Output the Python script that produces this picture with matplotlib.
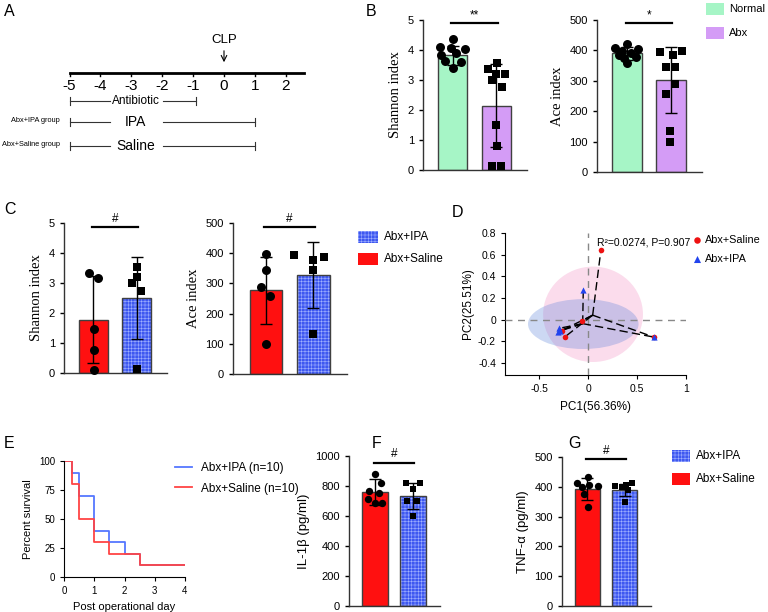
import numpy as np
import matplotlib.pyplot as plt
from matplotlib.patches import Ellipse, Rectangle

plt.rcParams['font.family'] = ['Liberation Sans', 'DejaVu Sans']
plt.rcParams['hatch.linewidth'] = 0.4

W, H = 768, 612

GREEN = '#a6f5c6'
PURPLE = '#d49cf6'
RED = '#ff1010'
BLUE = '#3e58f0'
EDGE = '#404040'

# ---- panel A: timeline ----
days = [-5, -4, -3, -2, -1, 0, 1, 2]
treat_names = ['Antibiotic', 'IPA', 'Saline']
treat_start = [-5, -5, -5]
treat_end = [-0.9, 1, 1]
group_names = ['', 'Abx+IPA group', 'Abx+Saline group']

# ---- panel B ----
b_shannon_mean = [3.82, 2.15]
b_shannon_sd = [0.33, 1.38]
b_shannon_pts = [[4.36, 4.11, 4.08, 4.02, 3.89, 3.83, 3.63, 3.61, 3.39],
                 [3.56, 3.36, 3.20, 3.20, 3.00, 2.76, 1.50, 0.80, 0.14, 0.14]]
b_shannon_off = [[0.01, -0.28, -0.03, 0.27, 0.07, -0.26, -0.18, 0.20, 0.0],
                 [0.01, -0.20, 0.20, -0.01, -0.10, 0.12, 0.0, 0.01, -0.09, 0.10]]
b_ace_mean = [390, 302]
b_ace_sd = [21, 108]
b_ace_pts = [[421, 407, 404, 399, 393, 385, 379, 374, 357],
             [396, 398, 385, 346, 346, 288, 258, 135, 100]]
b_ace_off = [[0.0, -0.27, 0.24, -0.11, 0.08, -0.19, 0.20, -0.07, -0.01],
             [-0.26, 0.25, 0.05, -0.12, 0.09, 0.09, -0.12, -0.02, -0.02]]

# ---- panel C ----
c_shannon_mean = [1.77, 2.51]
c_shannon_sd = [1.45, 1.37]
c_shannon_pts = [[3.34, 3.17, 1.48, 0.78, 0.11],
                 [3.55, 3.19, 2.99, 2.75, 0.12]]
c_shannon_off = [[-0.10, 0.11, 0.01, 0.01, 0.01],
                 [0.0, 0.0, -0.11, 0.10, 0.0]]
c_ace_mean = [277, 327]
c_ace_sd = [112, 110]
c_ace_pts = [[397, 344, 288, 257, 99],
             [394, 379, 386, 344, 134]]
c_ace_off = [[0.0, 0.0, -0.10, 0.09, 0.0],
             [-0.41, 0.0, 0.21, 0.0, 0.0]]

# ---- panel D: PCoA ----
pc_saline_x = [0.13, -0.06, -0.27, -0.24, 0.67]
pc_saline_y = [0.64, -0.01, -0.10, -0.16, -0.16]
pc_ipa_x = [-0.05, -0.30, -0.29, -0.31, 0.67]
pc_ipa_y = [0.27, -0.08, -0.10, -0.11, -0.16]
ell_saline = (0.05, 0.05, 1.02, 0.88)   # centre x, centre y, width, height
ell_ipa = (-0.05, -0.04, 1.13, 0.46)

# ---- panel E: survival ----
surv_ipa_t = [0, 0.25, 0.5, 1.0, 1.5, 2.0, 2.5, 4]
surv_ipa = [100, 90, 70, 40, 30, 20, 10, 10]
surv_sal_t = [0, 0.25, 0.5, 1.0, 1.5, 2.5, 4]
surv_sal = [100, 80, 50, 30, 20, 10, 10]

# ---- panel F / G ----
il1b_mean = [761, 733]
il1b_sd = [86, 85]
il1b_pts = [[880, 820, 766, 755, 711, 685, 689],
            [820, 820, 777, 700, 700, 597]]
il1b_off = [[0.0, 0.15, -0.15, 0.10, -0.19, 0.0, 0.18],
            [-0.20, 0.18, 0.0, -0.16, 0.11, 0.0]]
tnf_mean = [392, 389]
tnf_sd = [36, 20]
tnf_pts = [[433, 413, 406, 403, 400, 376, 331],
           [402, 400, 406, 413, 389, 350]]
tnf_off = [[0.02, -0.27, 0.04, 0.27, -0.15, -0.08, 0.02],
           [-0.25, -0.08, 0.04, 0.19, 0.08, 0.0]]


def px_axes(fig, left, top, right, bottom):
    return fig.add_axes([left / W, 1 - bottom / H, (right - left) / W, (bottom - top) / H])


def bar_panel(ax, means, sds, pts, offs, colors, ymax, step, ylabel, sig_y, sig_txt,
              serif, msize):
    markers = ['o', 's']
    sizes = [msize, msize * 0.8]
    for i in range(len(means)):
        if colors[i] == BLUE:
            ax.bar(i, means[i], width=0.67, color=BLUE, edgecolor='#a0b0ff',
                   hatch='+++++', linewidth=0, zorder=2)
            ax.bar(i, means[i], width=0.67, fill=False, edgecolor=EDGE,
                   linewidth=1, zorder=2)
        else:
            ax.bar(i, means[i], width=0.67, color=colors[i], edgecolor=EDGE,
                   linewidth=1, zorder=2)
        ax.errorbar(i, means[i], yerr=sds[i], color='black', capsize=4.5,
                    elinewidth=1, capthick=1, zorder=3)
        ax.scatter(i + np.array(offs[i]), pts[i], marker=markers[i], s=sizes[i],
                   color='black', zorder=4, clip_on=False, linewidths=0)
    ax.set_xlim(-0.68, 1.7)
    ax.set_ylim(0, ymax)
    ax.set_yticks(np.arange(0, ymax + step / 2, step))
    ax.set_xticks([])
    for s in ['top', 'right']:
        ax.spines[s].set_visible(False)
    for s in ['left', 'bottom']:
        ax.spines[s].set_color('#333333')
        ax.spines[s].set_linewidth(1)
    ax.tick_params(axis='y', direction='out', length=3, labelsize=8, width=1)
    ax.plot([-0.03, 1.03], [sig_y, sig_y], color='black', lw=1.6, clip_on=False)
    ax.text(0.5, sig_y + ymax * 0.015, sig_txt, ha='center', va='bottom', fontsize=8.5)
    if serif:
        ax.set_ylabel(ylabel, fontsize=10.5, family='Liberation Serif', labelpad=4)
    else:
        ax.set_ylabel(ylabel, fontsize=9.5, labelpad=4)


fig = plt.figure(figsize=(7.68, 6.12), dpi=100)

# ---------------- A ----------------
axa = px_axes(fig, 0, 0, 360, 200)
axa.set_xlim((0 - 224) / 30.9, (360 - 224) / 30.9)
axa.set_ylim(200, 0)
axa.axis('off')
axa.plot([days[0], 2.6], [73, 73], color='black', lw=2)
for d in days:
    axa.plot([d, d], [73, 76], color='black', lw=1)
    axa.text(d, 86, str(d), ha='center', va='center', fontsize=11)
axa.text(0, 40, 'CLP', ha='center', va='center', fontsize=9.5)
axa.annotate('', xy=(0, 65), xytext=(0, 48),
             arrowprops=dict(arrowstyle='->', lw=0.8, color='black'))
rows_y = [101, 122, 146]
row_fs = [8.5, 10, 10]
for name, st, en, grp, y, fs in zip(treat_names, treat_start, treat_end, group_names,
                                    rows_y, row_fs):
    axa.plot([st, -3.7], [y, y], color='#333333', lw=0.8)
    axa.plot([-1.97, en], [y, y], color='#333333', lw=0.8)
    axa.plot([st, st], [y - 4, y + 4], color='#333333', lw=0.8)
    axa.plot([en, en], [y - 4, y + 4], color='#333333', lw=0.8)
    axa.text(-2.85, y, name, ha='center', va='center', fontsize=fs)
    if grp:
        axa.text(-5.31, y - 2, grp, ha='right', va='center', fontsize=5.3)

# ---------------- B ----------------
ax = px_axes(fig, 423, 20, 527, 170)
bar_panel(ax, b_shannon_mean, b_shannon_sd, b_shannon_pts, b_shannon_off,
          [GREEN, PURPLE], 5, 1, 'Shannon index', 4.89, '**', True, 42)
ax = px_axes(fig, 597, 20, 702, 172)
bar_panel(ax, b_ace_mean, b_ace_sd, b_ace_pts, b_ace_off,
          [GREEN, PURPLE], 500, 100, 'Ace index', 489, '*', True, 42)

# ---------------- C ----------------
ax = px_axes(fig, 64, 223, 167, 373)
bar_panel(ax, c_shannon_mean, c_shannon_sd, c_shannon_pts, c_shannon_off,
          [RED, BLUE], 5, 1, 'Shannon index', 4.87, '#', True, 42)
ax = px_axes(fig, 233, 223, 347, 374)
bar_panel(ax, c_ace_mean, c_ace_sd, c_ace_pts, c_ace_off,
          [RED, BLUE], 500, 100, 'Ace index', 487, '#', True, 42)

# ---------------- D ----------------
axd = px_axes(fig, 505, 233, 686, 375)
axd.add_patch(Ellipse(ell_saline[:2], ell_saline[2], ell_saline[3],
                      facecolor='#fbdcec', edgecolor='none', zorder=1))
axd.add_patch(Ellipse(ell_ipa[:2], ell_ipa[2], ell_ipa[3],
                      facecolor=(0.35, 0.5, 0.85), alpha=0.3, edgecolor='none', zorder=2))
axd.axhline(0, color='#888888', ls=(0, (5, 4)), lw=1, zorder=3)
axd.axvline(0, color='#888888', ls=(0, (5, 4)), lw=1, zorder=3)
for xs, ys in [(pc_saline_x, pc_saline_y), (pc_ipa_x, pc_ipa_y)]:
    cx, cy = np.mean(xs), np.mean(ys)
    for x, y in zip(xs, ys):
        axd.plot([cx, x], [cy, y], color='black', ls=(0, (6, 3)), lw=1, zorder=4)
axd.scatter(pc_saline_x, pc_saline_y, s=16, color='#ee1111', marker='o', zorder=5,
            linewidths=0)
axd.scatter(pc_ipa_x, pc_ipa_y, s=20, color='#2244ee', marker='^', zorder=6,
            linewidths=0)
axd.set_xlim(-0.85, 1.0)
axd.set_ylim(-0.51, 0.8)
axd.set_xticks([-0.5, 0, 0.5, 1])
axd.set_xticklabels(['-0.5', '0', '0.5', '1'])
axd.set_yticks([0.8, 0.6, 0.4, 0.2, 0, -0.2, -0.4])
axd.set_yticklabels(['0.8', '0.6', '0.4', '0.2', '0', '-0.2', '-0.4'])
for s in ['top', 'right']:
    axd.spines[s].set_visible(False)
axd.tick_params(direction='out', length=3, labelsize=7.5)
axd.set_xlabel('PC1(56.36%)', fontsize=8.5, labelpad=5)
axd.set_ylabel('PC2(25.51%)', fontsize=8.5, labelpad=3)
axd.text(0.51, 0.97, 'R²=0.0274, P=0.907', transform=axd.transAxes, fontsize=7.5,
         va='top', ha='left')

# ---------------- E ----------------
axe = px_axes(fig, 64, 461, 185, 577)
axe.step(surv_ipa_t, surv_ipa, where='post', color='#5577ff', lw=1.3, label='Abx+IPA (n=10)')
axe.step(surv_sal_t, surv_sal, where='post', color='#ff4444', lw=1.3, label='Abx+Saline (n=10)')
axe.set_xlim(0, 4)
axe.set_ylim(0, 100)
axe.set_xticks([0, 1, 2, 3, 4])
axe.set_yticks([0, 25, 50, 75, 100])
for s in ['top', 'right']:
    axe.spines[s].set_visible(False)
axe.tick_params(direction='out', length=3, labelsize=7)
axe.set_xlabel('Post operational day', fontsize=8)
axe.set_ylabel('Percent survival', fontsize=8)
axe.legend(loc='upper left', bbox_to_anchor=(0.83, 1.08), frameon=False, fontsize=8.5,
           handlelength=1.4, handletextpad=0.8, labelspacing=0.7)

# ---------------- F / G ----------------
ax = px_axes(fig, 349, 456, 440, 606)
bar_panel(ax, il1b_mean, il1b_sd, il1b_pts, il1b_off,
          [RED, BLUE], 1000, 200, 'IL-1β (pg/ml)', 956, '#', False, 28)
ax = px_axes(fig, 562, 457, 651, 606)
bar_panel(ax, tnf_mean, tnf_sd, tnf_pts, tnf_off,
          [RED, BLUE], 500, 100, 'TNF-α (pg/ml)', 494, '#', False, 28)

# ---------------- overlay: letters and legends ----------------
ov = fig.add_axes([0, 0, 1, 1], zorder=10)
ov.set_xlim(0, W)
ov.set_ylim(H, 0)
ov.axis('off')
for letter, x, y in [('A', 4, 4), ('B', 366, 4), ('C', 4, 202), ('D', 452, 205),
                     ('E', 4, 436), ('F', 372, 436), ('G', 568, 436)]:
    ov.text(x, y, letter, fontsize=11.5, va='top', ha='left')


def patch_legend(x, y0, dy, w, h, items, fs, gap=6):
    for k, (lab, col) in enumerate(items):
        y = y0 + k * dy
        if col == BLUE:
            ov.add_patch(Rectangle((x, y - h / 2), w, h, facecolor=BLUE,
                                   edgecolor='#a0b0ff', hatch='+++++', linewidth=0))
        else:
            ov.add_patch(Rectangle((x, y - h / 2), w, h, facecolor=col, linewidth=0))
        ov.text(x + w + gap, y, lab, fontsize=fs, va='center', ha='left')


patch_legend(706, 9, 24, 18, 12, [('Normal', GREEN), ('Abx', PURPLE)], 8, gap=5)
patch_legend(358, 237, 22, 20, 12, [('Abx+IPA', BLUE), ('Abx+Saline', RED)], 8.5)
patch_legend(672, 456, 23, 18, 12, [('Abx+IPA', BLUE), ('Abx+Saline', RED)], 8.5)

# panel D legend
ov.scatter([697], [240], s=22, color='#ee1111', marker='o', linewidths=0)
ov.text(705, 240, 'Abx+Saline', fontsize=7.8, va='center', ha='left')
ov.scatter([697], [259], s=26, color='#2244ee', marker='^', linewidths=0)
ov.text(705, 259, 'Abx+IPA', fontsize=7.8, va='center', ha='left')

fig.savefig('out.png', dpi=100)
